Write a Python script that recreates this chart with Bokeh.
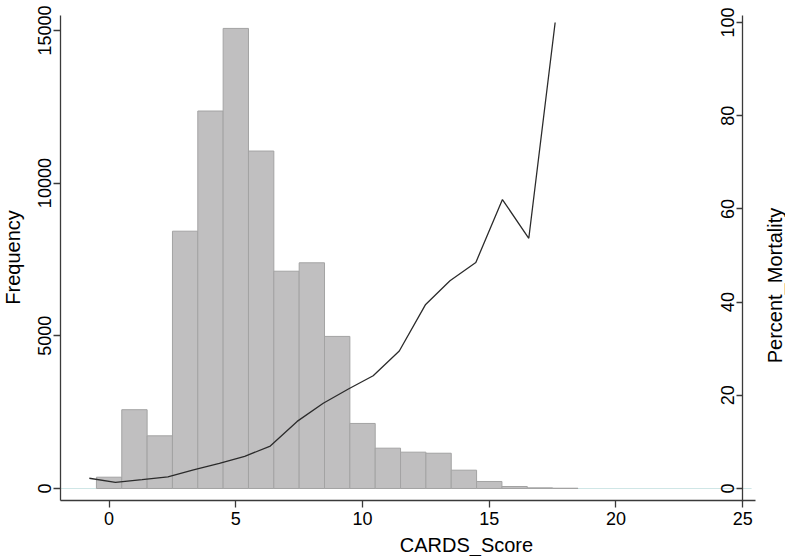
import math
from bokeh.plotting import figure
from bokeh.models import Range1d, LinearAxis, FixedTicker, Label
from bokeh.embed import file_html
from bokeh.resources import INLINE

# ---- data ----
score_bins = [0, 1, 2, 3, 4, 5, 6, 7, 8, 9, 10, 11, 12, 13, 14, 15, 16, 17, 18]
frequency = [370, 2580, 1725, 8425, 12360, 15065, 11050, 7115, 7390, 4980,
             2130, 1320, 1190, 1155, 600, 230, 65, 22, 9]

line_score = [-0.78, 0.25, 1.30, 2.32, 3.33, 4.35, 5.35, 6.36, 7.42, 8.45,
              9.46, 10.42, 11.45, 12.49, 13.45, 14.47, 15.52, 16.56, 17.60]
percent_mortality = [2.2, 1.3, 1.9, 2.5, 4.0, 5.4, 6.9, 9.1, 14.4, 18.3,
                     21.4, 24.2, 29.5, 39.5, 44.6, 48.5, 62.0, 53.7, 100.0]

x_ticks = [0, 5, 10, 15, 20, 25]
freq_ticks = [0, 5000, 10000, 15000]
pct_ticks = [0, 20, 40, 60, 80, 100]

x_title = "CARDS_Score"
freq_title = "Frequency"
pct_title = "Percent_Mortality"

FONT = "Liberation Sans"
TICK_SIZE = "18px"
TITLE_SIZE = "20px"
AXIS_COLOR = "#3a3a3a"

W, H = 785, 556

# plot-region extents (axis lines) in data units
X_LO, X_HI = -1.91, 25.5
F_LO, F_HI = -397, 15488
P_LO, P_HI = -2.79, 101.5

p = figure(width=W, height=H,
           x_range=Range1d(-4.285, 26.689), y_range=Range1d(-2226.6, 15979),
           output_backend="svg", toolbar_location=None,
           x_axis_location=None, y_axis_location=None,
           min_border=0)
p.extra_y_ranges = {"pct": Range1d(-14.59, 104.72)}
p.xgrid.visible = False
p.ygrid.visible = False
p.outline_line_color = None
p.background_fill_color = "white"
p.border_fill_color = "white"

# zero line
p.segment(x0=[X_LO], x1=[X_HI - 0.15], y0=[0], y1=[0],
          line_color="#cfe6e6", line_width=1)

# histogram bars
lefts = [c - 0.5 for c in score_bins]
rights = [c + 0.5 for c in score_bins]
p.quad(left=lefts, right=rights, bottom=0, top=frequency,
       fill_color="#c0bfc0", line_color="#a3a3a3", line_width=1)

# mortality line
p.line(line_score, percent_mortality, y_range_name="pct",
       line_color="#2b2b2b", line_width=1.3)


def style(ax):
    ax.axis_line_color = AXIS_COLOR
    ax.axis_line_width = 1.3
    ax.major_tick_line_color = AXIS_COLOR
    ax.major_tick_line_width = 1.3
    ax.major_tick_in = 0
    ax.major_tick_out = 7
    ax.minor_tick_line_color = None
    ax.major_label_text_font = FONT
    ax.major_label_text_font_size = TICK_SIZE
    ax.major_label_text_color = "black"
    ax.major_label_standoff = 3


xa = LinearAxis(fixed_location=F_LO, bounds=(X_LO, X_HI),
                ticker=FixedTicker(ticks=x_ticks))
style(xa)
xa.major_label_standoff = 4
p.add_layout(xa, "below")

ya = LinearAxis(fixed_location=X_LO, bounds=(F_LO, F_HI),
                ticker=FixedTicker(ticks=freq_ticks))
style(ya)
ya.major_label_orientation = "vertical"
p.add_layout(ya, "left")

pa = LinearAxis(y_range_name="pct", fixed_location=25, bounds=(P_LO, P_HI),
                ticker=FixedTicker(ticks=pct_ticks))
style(pa)
pa.major_tick_out = 6
pa.major_label_orientation = "vertical"
p.add_layout(pa, "left")


def title(text, x, y, angle=0.0):
    p.add_layout(Label(x=x, y=y, angle=angle, text=text,
                       text_align="center", text_baseline="middle",
                       text_font=FONT, text_font_size=TITLE_SIZE,
                       text_color="black"))


title(x_title, 14.10, -1866)
title(freq_title, -3.81, 7564, math.pi / 2)
title(pct_title, 26.29, 6647, math.pi / 2)

open("out.html", "w").write(file_html(p, INLINE))
